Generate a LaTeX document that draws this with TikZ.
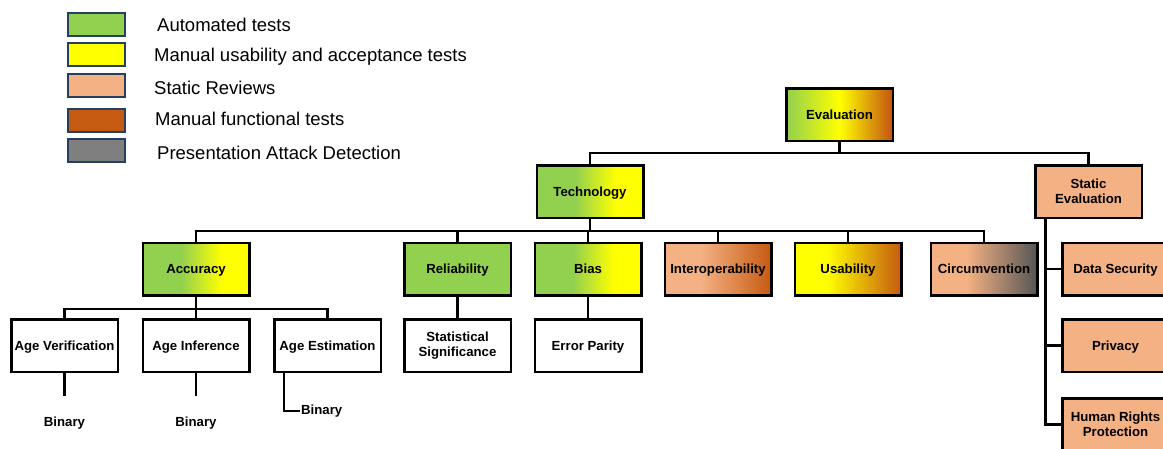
\documentclass[tikz,border=0pt]{standalone}
\usepackage{fontspec}
\setmainfont{Liberation Sans}
\usetikzlibrary{shapes, arrows}
\definecolor{autogreen}{HTML}{92D050}
\definecolor{manyellow}{HTML}{FFFF00}
\definecolor{staticpeach}{HTML}{F4B183}
\definecolor{funcbrown}{HTML}{C55A11}
\definecolor{padgray}{HTML}{7F7F7F}
\definecolor{padgraydark}{HTML}{555555}
\definecolor{legendframe}{HTML}{243F60}
\pgfdeclarehorizontalshading{evalshade}{100bp}{color(0bp)=(autogreen); color(25bp)=(autogreen); color(50bp)=(manyellow); color(74bp)=(funcbrown); color(100bp)=(funcbrown)}
\pgfdeclarehorizontalshading{greenyellow}{100bp}{color(0bp)=(autogreen); color(43bp)=(autogreen); color(62bp)=(manyellow); color(100bp)=(manyellow)}
\pgfdeclarehorizontalshading{peachbrown}{100bp}{color(0bp)=(staticpeach); color(42bp)=(staticpeach); color(75bp)=(funcbrown); color(100bp)=(funcbrown)}
\pgfdeclarehorizontalshading{yellowbrown}{100bp}{color(0bp)=(manyellow); color(40bp)=(manyellow); color(75bp)=(funcbrown); color(100bp)=(funcbrown)}
\pgfdeclarehorizontalshading{peachgray}{100bp}{color(0bp)=(staticpeach); color(42bp)=(staticpeach); color(75bp)=(padgraydark); color(100bp)=(padgraydark)}
\tikzstyle{box} = [rectangle, draw=black, line width=2.5pt, minimum width=106.5pt, minimum height=52.5pt, inner sep=1pt, align=center, font=\bfseries\fontsize{13.2}{15}\selectfont, text height=9.5pt, text depth=0pt]
\tikzstyle{twoline} = [text height=, text depth=]
\tikzstyle{whitebox} = [box, fill=white]
\tikzstyle{greenbox} = [box, fill=autogreen]
\tikzstyle{peachbox} = [box, fill=staticpeach]
\tikzstyle{legendkey} = [rectangle, draw=legendframe, line width=2pt, minimum width=57pt, minimum height=23pt]
\tikzstyle{legendtext} = [anchor=west, inner sep=0pt, font=\fontsize{18.5}{20}\selectfont]
\tikzstyle{leaf} = [font=\bfseries\fontsize{13.2}{15}\selectfont]
\tikzstyle{link} = [line width=2.5pt]
\begin{document}
\begin{tikzpicture}[x=1pt, y=-1pt]
\useasboundingbox (0,0) rectangle (1163,448);

% Legend
\node (keyAuto) [legendkey, fill=autogreen] at (96.5,24) {};
\node (keyUsab) [legendkey, fill=manyellow] at (96.5,54.5) {};
\node (keyStatic) [legendkey, fill=staticpeach] at (96.5,85.5) {};
\node (keyFunc) [legendkey, fill=funcbrown] at (96.5,120.5) {};
\node (keyPad) [legendkey, fill=padgray] at (96.5,150.5) {};
\node (txtAuto) [legendtext] at (157,25) {Automated tests};
\node (txtUsab) [legendtext] at (154,57) {Manual usability and acceptance tests};
\node (txtStatic) [legendtext] at (154,88) {Static Reviews};
\node (txtFunc) [legendtext] at (155,119) {Manual functional tests};
\node (txtPad) [legendtext] at (157,153) {Presentation Attack Detection};

% Nodes
\node (eval) [box, shading=evalshade] at (839.5,114.5) {Evaluation};
\node (tech) [box, shading=greenyellow] at (590,191.5) {Technology};
\node (static) [peachbox, twoline] at (1088.5,191.5) {Static\\Evaluation};
\node (accuracy) [box, shading=greenyellow] at (196,269) {Accuracy};
\node (reliability) [greenbox] at (457.5,269) {Reliability};
\node (bias) [box, shading=greenyellow] at (588,269) {Bias};
\node (interop) [box, shading=peachbrown] at (718,269) {Interoperability};
\node (usability) [box, shading=yellowbrown] at (848,269) {Usability};
\node (circumvention) [box, shading=peachgray] at (984,269) {Circumvention};
\node (ageVerif) [whitebox] at (64.5,345.5) {Age Verification};
\node (ageInf) [whitebox] at (196,345.5) {Age Inference};
\node (ageEst) [whitebox] at (327.5,345.5) {Age Estimation};
\node (statSig) [whitebox, twoline] at (457.5,345.5) {Statistical\\Significance};
\node (errParity) [whitebox] at (588,345.5) {Error Parity};
\node (dataSec) [peachbox] at (1115.5,269) {Data Security};
\node (privacy) [peachbox] at (1115.5,345.5) {Privacy};
\node (rights) [peachbox, twoline] at (1115.5,424.5) {Human Rights\\Protection};
\node (binVerif) [leaf] at (64.5,423) {Binary};
\node (binInf) [leaf] at (196,423) {Binary};
\node (binEst) [leaf, anchor=west, inner sep=1pt] at (300,411) {Binary};

% Lines
\coordinate (evalBus) at (839.5,153);
\coordinate (techBus) at (590,231);
\coordinate (accBus) at (196,309);
\coordinate (staticStem) at (1045.5,218);
\draw [link] (eval.south) -- (evalBus);
\draw [link] (tech.north) |- (evalBus) -| (static.north);
\draw [link] (tech.south) -- (techBus);
\draw [link] (accuracy.north) |- (techBus) -| (circumvention.north);
\draw [link] (reliability.north) -- (reliability.north |- techBus);
\draw [link] (bias.north) -- (bias.north |- techBus);
\draw [link] (interop.north) -- (interop.north |- techBus);
\draw [link] (usability.north) -- (usability.north |- techBus);
\draw [link] (accuracy.south) -- (accBus);
\draw [link] (ageVerif.north) |- (accBus) -| (ageEst.north);
\draw [link] (ageInf.north) -- (ageInf.north |- accBus);
\draw [link] (reliability) -- (statSig);
\draw [link] (bias) -- (errParity);
\draw [link] (ageVerif.south) -- ++(0,23);
\draw [link] (ageInf.south) -- ++(0,23);
\draw [link] ([xshift=-43.5pt]ageEst.south) |- (binEst.west);

% Static evaluation branch
\draw [link] (staticStem) |- (rights.west);
\draw [link] (staticStem |- dataSec.west) -- (dataSec.west);
\draw [link] (staticStem |- privacy.west) -- (privacy.west);

\end{tikzpicture}
\end{document}
